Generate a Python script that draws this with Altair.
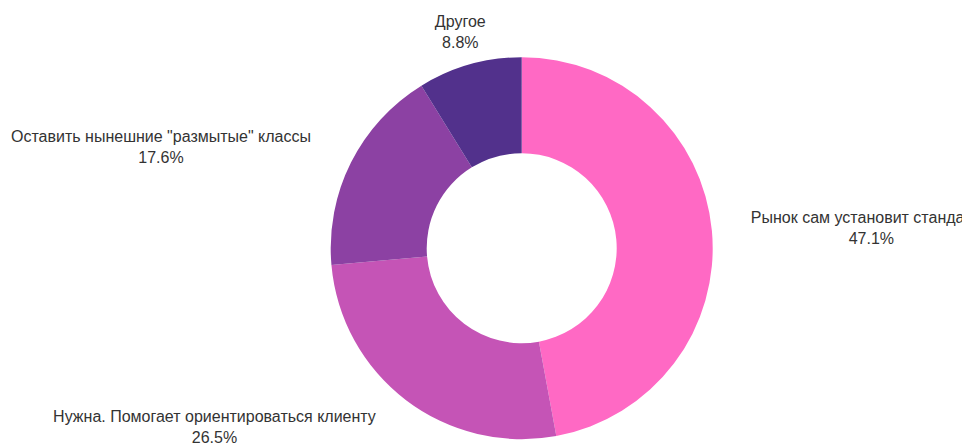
import math
import glob
import altair as alt
import pandas as pd

categories = [
    "Рынок сам установит стандарты",
    "Нужна. Помогает ориентироваться клиенту",
    'Оставить нынешние "размытые" классы',
    "Другое",
]
values = [47.1, 26.5, 17.6, 8.8]
colors = ["#FF69C4", "#C554B6", "#8C41A3", "#52318C"]

FONT_SIZE = 16


def text_width(s):
    try:
        from PIL import ImageFont
        paths = glob.glob("/usr/share/fonts/**/LiberationSans-Regular.ttf", recursive=True)
        f = ImageFont.truetype(paths[0], FONT_SIZE)
        return f.getlength(s)
    except Exception:
        return len(s) * 0.52 * FONT_SIZE


total = sum(values)
mids, aligns, cum = [], [], 0.0
for v in values:
    mid = cum + v / 2
    mids.append(mid)
    s = math.sin(mid / total * 2 * math.pi)
    aligns.append("left" if s > 0.35 else ("right" if s < -0.35 else "center"))
    cum += v

pct = [f"{v:.1f}%" for v in values]
df = pd.DataFrame({
    "category": categories,
    "value": values,
    "order": list(range(len(values))),
    "mid": mids,
    "align": aligns,
    "label": [f"{c}\n{p}" for c, p in zip(categories, pct)],
})

CX, CY = 513.7, 240.2
theta_scale = alt.Scale(domain=[0, total], range=[0, 2 * math.pi])

arc = alt.Chart(df).mark_arc(innerRadius=95, outerRadius=191).encode(
    theta=alt.Theta("value:Q", stack=True, scale=theta_scale),
    order=alt.Order("order:Q"),
    color=alt.Color("category:N", scale=alt.Scale(domain=categories, range=colors), legend=None),
    x=alt.value(CX),
    y=alt.value(CY),
)

layers = [arc]
for cat, a in zip(categories, aligns):
    w = max(text_width(cat), text_width("00.0%"))
    if a == "left":
        dx = 5 + w / 2
    elif a == "right":
        dx = -9.5 - w / 2
    else:
        dx = 0
    t = alt.Chart(df).transform_filter(alt.datum.category == cat).mark_text(
        align="center", baseline="middle", radius=225, dx=dx, dy=-10, lineBreak="\n",
        fontSize=FONT_SIZE, lineHeight=21, font="Liberation Sans", color="#333333",
    ).encode(
        theta=alt.Theta("mid:Q", stack=None, scale=theta_scale),
        text="label:N",
        x=alt.value(CX),
        y=alt.value(CY),
    )
    layers.append(t)

chart = alt.layer(*layers).properties(
    width=954, height=436, padding=0,
    autosize=alt.AutoSizeParams(type="none"),
).configure_view(stroke=None)

chart.save("out.html", embed_options={"renderer": "svg", "actions": False})
